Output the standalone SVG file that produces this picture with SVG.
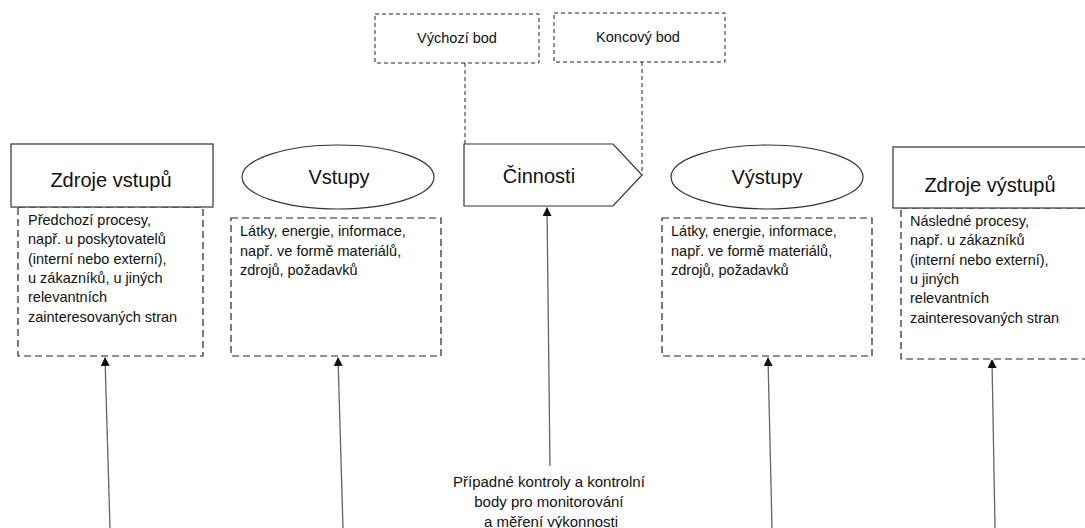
<svg xmlns="http://www.w3.org/2000/svg" width="1085" height="528" viewBox="0 0 1085 528">
  <style>
    text { font-family: "Liberation Sans", Arial, sans-serif; fill: #111; }
    .title { font-size: 20px; text-anchor: middle; }
    .body { font-size: 14.5px; }
    .tag { font-size: 14.5px; text-anchor: middle; }
    .label { font-size: 15px; text-anchor: middle; }
    .solid { fill: #fff; stroke: #333; stroke-width: 1.2; }
    .dash { fill: none; stroke: #222; stroke-width: 1.2; stroke-dasharray: 7 4; }
    .fine { fill: none; stroke: #222; stroke-width: 1; stroke-dasharray: 4 3; }
    .arrow { stroke: #666; stroke-width: 1.3; fill: none; marker-end: url(#head); }
  </style>
  <defs>
    <marker id="head" markerWidth="9" markerHeight="9" refX="8" refY="4.5" orient="auto" markerUnits="userSpaceOnUse">
      <path d="M0,0 L9,4.5 L0,9 Z" fill="#111"/>
    </marker>
  </defs>
  <rect width="1085" height="528" fill="#fff"/>

  <!-- connectors -->
  <g id="connectors">
    <line class="fine" x1="465" y1="63" x2="465" y2="144"/>
    <line class="fine" x1="642" y1="62" x2="642" y2="175"/>
    <line class="arrow" x1="110" y1="528" x2="105" y2="358"/>
    <line class="arrow" x1="343" y1="528" x2="338" y2="358"/>
    <line class="arrow" x1="550" y1="466" x2="547" y2="208"/>
    <line class="arrow" x1="772" y1="528" x2="768" y2="358"/>
    <line class="arrow" x1="995" y1="528" x2="992" y2="360"/>
  </g>

  <!-- start point -->
  <g id="vychozi-bod">
    <rect class="fine" x="375" y="14" width="164" height="49"/>
    <text class="tag" x="457" y="43">Výchozí bod</text>
  </g>

  <!-- end point -->
  <g id="koncovy-bod">
    <rect class="fine" x="554" y="13" width="171" height="49"/>
    <text class="tag" x="638" y="42">Koncový bod</text>
  </g>

  <!-- input sources -->
  <g id="zdroje-vstupu">
    <rect class="dash" x="18" y="207" width="185" height="149"/>
    <rect class="solid" x="11" y="144" width="202" height="63"/>
    <text class="title" x="111" y="187">Zdroje vstupů</text>
    <text class="body" x="28" y="225">
      <tspan x="28">Předchozí procesy,</tspan>
      <tspan x="28" dy="19.3">např. u poskytovatelů</tspan>
      <tspan x="28" dy="19.3">(interní nebo externí),</tspan>
      <tspan x="28" dy="19.3">u zákazníků, u jiných</tspan>
      <tspan x="28" dy="19.3">relevantních</tspan>
      <tspan x="28" dy="19.3">zainteresovaných stran</tspan>
    </text>
  </g>

  <!-- inputs -->
  <g id="vstupy">
    <ellipse class="solid" cx="338" cy="177" rx="96" ry="32"/>
    <text class="title" x="339" y="184">Vstupy</text>
    <rect class="dash" x="231" y="218" width="210" height="138"/>
    <text class="body" x="240" y="236">
      <tspan x="240">Látky, energie, informace,</tspan>
      <tspan x="240" dy="19.5">např. ve formě materiálů,</tspan>
      <tspan x="240" dy="19.5">zdrojů, požadavků</tspan>
    </text>
  </g>

  <!-- activities -->
  <g id="cinnosti">
    <path class="solid" d="M464,144 L613,144 L642,175 L613,206 L464,206 Z"/>
    <text class="title" x="539" y="183">Činnosti</text>
  </g>

  <!-- outputs -->
  <g id="vystupy">
    <ellipse class="solid" cx="767" cy="177" rx="96" ry="32"/>
    <text class="title" x="767" y="184">Výstupy</text>
    <rect class="dash" x="662" y="218" width="210" height="138"/>
    <text class="body" x="671" y="236">
      <tspan x="671">Látky, energie, informace,</tspan>
      <tspan x="671" dy="19.5">např. ve formě materiálů,</tspan>
      <tspan x="671" dy="19.5">zdrojů, požadavků</tspan>
    </text>
  </g>

  <!-- output recipients -->
  <g id="zdroje-vystupu">
    <rect class="dash" x="901" y="208" width="200" height="151"/>
    <rect class="solid" x="893" y="147" width="200" height="61"/>
    <text class="title" x="990" y="192">Zdroje výstupů</text>
    <text class="body" x="910" y="226">
      <tspan x="910">Následné procesy,</tspan>
      <tspan x="910" dy="19.3">např. u zákazníků</tspan>
      <tspan x="910" dy="19.3">(interní nebo externí),</tspan>
      <tspan x="910" dy="19.3">u jiných</tspan>
      <tspan x="910" dy="19.3">relevantních</tspan>
      <tspan x="910" dy="19.3">zainteresovaných stran</tspan>
    </text>
  </g>

  <!-- monitoring note -->
  <g id="kontroly">
    <text class="label" x="551" y="487">
      <tspan x="551">Případné kontroly a kontrolní</tspan>
      <tspan x="551" dy="20">body pro monitorování</tspan>
      <tspan x="551" dy="20">a měření výkonnosti</tspan>
    </text>
  </g>
</svg>
